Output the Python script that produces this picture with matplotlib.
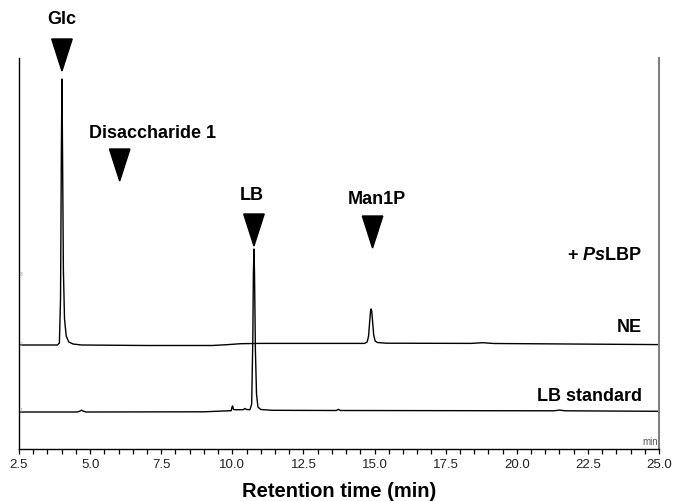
import matplotlib.pyplot as plt
from matplotlib.patches import Polygon

plt.rcParams['font.family'] = ['Liberation Sans', 'DejaVu Sans']
plt.rcParams['mathtext.fontset'] = 'custom'
plt.rcParams['mathtext.rm'] = 'Liberation Sans:bold'
plt.rcParams['mathtext.it'] = 'Liberation Sans:bold:italic'
plt.rcParams['mathtext.bf'] = 'Liberation Sans:bold'

# NE trace (upper), time in min / signal in arbitrary units
ne_t = [2.5, 3.85, 3.92, 3.96, 3.99, 4.01, 4.03, 4.06, 4.1, 4.16, 4.25, 4.4, 4.7,
        7.0, 9.3, 9.8, 10.3, 11.0, 14.65, 14.74, 14.79, 14.83, 14.86, 14.88,
        14.9, 14.93, 14.97, 15.02, 15.1, 15.4, 18.4, 18.8, 19.2, 25.0]
ne_y = [104, 104, 106, 150, 300, 370, 300, 180, 130, 113, 107, 105, 104,
        103.5, 103.5, 104.3, 105.3, 105.6, 105.6, 107, 113, 128, 138, 140,
        138, 128, 114, 108, 106.5, 105.8, 105.6, 106.3, 105.5, 104.4]

# LB standard trace (lower)
lb_t = [2.5, 4.55, 4.65, 4.7, 4.75, 4.85, 9.0, 9.96, 9.99, 10.01, 10.04, 10.1,
        10.38, 10.44, 10.5, 10.62, 10.68, 10.72, 10.74, 10.76, 10.78, 10.81,
        10.85, 10.9, 11.0, 11.4, 13.65, 13.73, 13.8, 21.3, 21.5, 21.7, 25.0]
lb_y = [37, 37, 38, 38.8, 38, 37, 37.2, 38.3, 42, 43, 39.5, 39.3,
        39.3, 40.5, 39.5, 39.3, 45, 110, 175, 200, 175, 100,
        55, 42, 39.5, 38.7, 38.5, 39.6, 38.5, 38.2, 38.9, 38.2, 37.7]

# peak markers
peak_names = ['Glc', 'Disaccharide 1', 'LB', 'Man1P']
arrow_x = [4.01, 6.04, 10.76, 14.93]
arrow_tip = [378, 268, 203, 201]
label_x = [4.0, 7.21, 10.69, 15.08]
label_y = [430, 317, 254, 250]

trace_names = [r'+ $\mathit{Ps}$LBP', 'NE', 'LB standard']
trace_label_y = [194, 122, 53]

fig = plt.figure(figsize=(6.77, 5.02), dpi=100)
ax = fig.add_axes([19/677, 52/502, 640/677, 391/502])

ax.plot(ne_t, ne_y, color='black', lw=1.0)
ax.plot(lb_t, lb_y, color='black', lw=1.0)

ax.set_xlim(2.5, 25.0)
ax.set_ylim(0, 391)
ax.set_xticks([2.5, 5.0, 7.5, 10.0, 12.5, 15.0, 17.5, 20.0, 22.5, 25.0])
ax.set_xticks([2.5 + 0.5*i for i in range(46)], minor=True)
ax.tick_params(axis='x', which='both', direction='out', length=3.5, width=0.9,
               labelsize=9.5, pad=3, labelcolor='#222222')
ax.set_yticks([])
ax.spines['top'].set_visible(False)
ax.spines['left'].set_linewidth(1.0)
ax.spines['bottom'].set_linewidth(1.0)
ax.spines['right'].set_color('#808080')
ax.spines['right'].set_linewidth(1.5)

ax.set_xlabel('Retention time (min)', fontsize=14.5, fontweight='bold', labelpad=8)

# triangles and peak names
hw = 0.36
th = 32
for name, xa, tip, lx, ly in zip(peak_names, arrow_x, arrow_tip, label_x, label_y):
    tri = Polygon([[xa - hw, tip + th], [xa + hw, tip + th], [xa, tip]],
                  closed=True, color='black', clip_on=False)
    ax.add_patch(tri)
    ax.text(lx, ly, name, fontsize=13, fontweight='bold', ha='center',
            va='center', clip_on=False)

# trace labels
for name, ty in zip(trace_names, trace_label_y):
    ax.text(24.39, ty, name, fontsize=13, fontweight='bold', ha='right',
            va='center')

ax.text(24.97, 3, 'min', fontsize=7, color='#555555', ha='right', va='bottom')

# small trace index marks on the left
for k, yk in zip(['3', '2', '1'], [175, 105, 39]):
    ax.text(2.52, yk, k, fontsize=3.5, color='#999999', ha='left', va='center')

fig.savefig('out.png', dpi=100)
